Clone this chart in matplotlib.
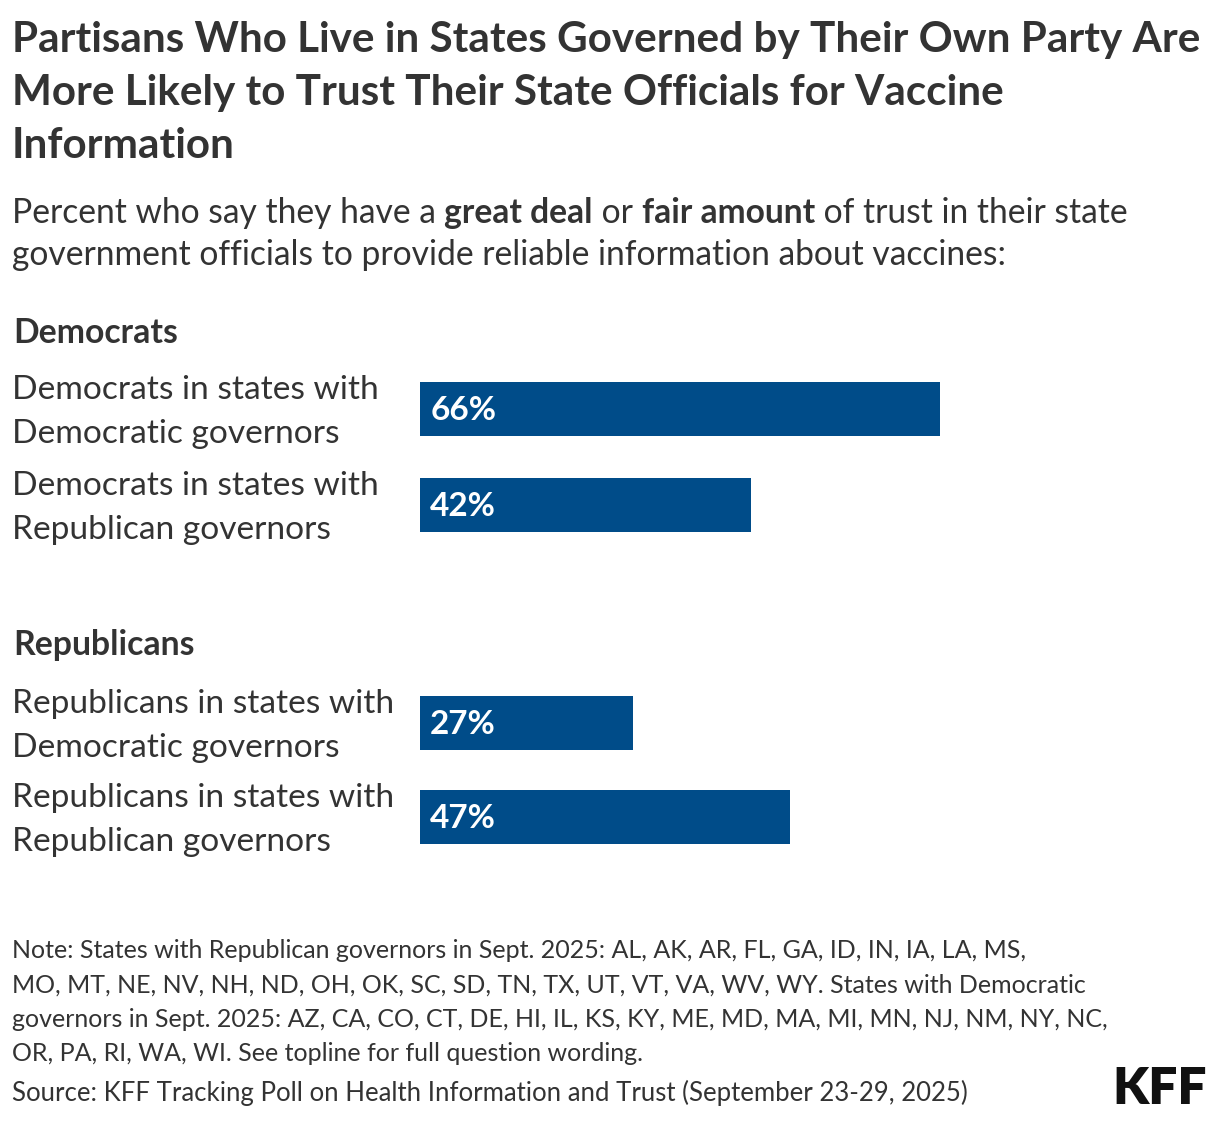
import matplotlib
matplotlib.use("Agg")
import matplotlib.pyplot as plt

W, H = 1220, 1122
DPI = 100

# ---- data ----
title_lines = [
    "Partisans Who Live in States Governed by Their Own Party Are",
    "More Likely to Trust Their State Officials for Vaccine",
    "Information",
]
groups = ["Democrats", "Republicans"]
labels = [
    "Democrats in states with\nDemocratic governors",
    "Democrats in states with\nRepublican governors",
    "Republicans in states with\nDemocratic governors",
    "Republicans in states with\nRepublican governors",
]
values = [66, 42, 27, 47]
note_lines = [
    "Note: States with Republican governors in Sept. 2025: AL, AK, AR, FL, GA, ID, IN, IA, LA, MS,",
    "MO, MT, NE, NV, NH, ND, OH, OK, SC, SD, TN, TX, UT, VT, VA, WV, WY. States with Democratic",
    "governors in Sept. 2025: AZ, CA, CO, CT, DE, HI, IL, KS, KY, ME, MD, MA, MI, MN, NJ, NM, NY, NC,",
    "OR, PA, RI, WA, WI. See topline for full question wording.",
]
source = "Source: KFF Tracking Poll on Health Information and Trust (September 23-29, 2025)"

BLUE = "#004c89"
TXT = "#333333"
FONT = "Lato"

plt.rcParams["font.family"] = [FONT, "DejaVu Sans"]

fig = plt.figure(figsize=(W / DPI, H / DPI), dpi=DPI)
fig.patch.set_facecolor("white")


def put(x, y, s, size, weight="normal", color=TXT, ha="left"):
    # x, y in pixels from top-left, y is the baseline
    return fig.text(x / W, 1 - y / H, s, fontsize=size, fontweight=weight,
                    color=color, ha=ha, va="baseline")


# title
for i, line in enumerate(title_lines):
    put(12, 52 + i * 53, line, 30.4, "bold")

# subtitle with bold pieces
renderer = fig.canvas.get_renderer()
pieces = [("Percent who say they have a ", "normal"), ("great deal", "bold"),
          (" or ", "normal"), ("fair amount", "bold"),
          (" of trust in their state", "normal")]
x = 12
for s, wgt in pieces:
    t = put(x, 223, s, 24.2, wgt)
    bb = t.get_window_extent(renderer)
    x += bb.width
put(12, 265, "government officials to provide reliable information about vaccines:", 24.2)

# group headers
put(13, 343, groups[0], 24.3, "bold")
put(13, 655, groups[1], 24.3, "bold")

# bars
bar_centers = [409, 505, 723, 817]
ax = fig.add_axes([420 / W, 0, 788 / W, 1])
ax.set_xlim(0, 100)
ax.set_ylim(H, 0)
ax.axis("off")
ax.barh(bar_centers, values, height=54, color=BLUE, align="center")
for yc, v, lab in zip(bar_centers, values, labels):
    ax.text(1.3, yc + 11, f"{v}%", color="white", fontsize=24,
            fontweight="bold", va="baseline", ha="left")
    l1, l2 = lab.split("\n")
    put(12, yc - 10, l1, 24.1)
    put(12, yc + 34, l2, 24.1)

# notes
for i, line in enumerate(note_lines):
    put(12, 958 + i * 34.3, line, 18)
put(12, 1101, source, 18.5)

# logo
put(1207, 1104, "KFF", 37, "heavy", color="#111111", ha="right")

fig.savefig("out.png", dpi=DPI, facecolor="white")
